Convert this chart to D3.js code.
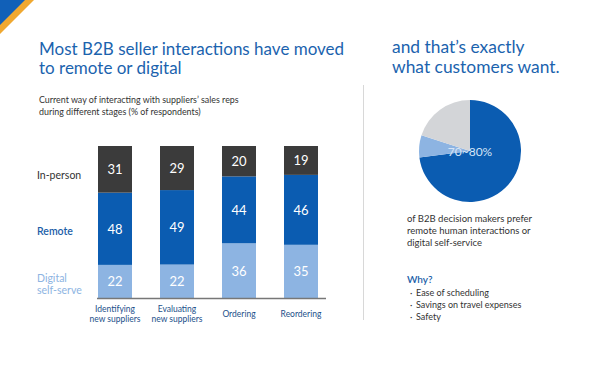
<!DOCTYPE html>
<html><head><meta charset="utf-8">
<script src="https://cdn.jsdelivr.net/npm/d3@7"></script>
<style>body{margin:0;background:#fff}svg{display:block;font-family:Lato,"Open Sans",sans-serif}</style>
</head><body><svg id="c" width="600" height="375"></svg>
<script>
// ---- data ----
const stages = ["Identifying new suppliers", "Evaluating new suppliers", "Ordering", "Reordering"];
const stageLines = [["Identifying", "new suppliers"], ["Evaluating", "new suppliers"], ["Ordering"], ["Reordering"]];
const modes = ["Digital self-serve", "Remote", "In-person"];
const digitalSelfServe = [22, 22, 36, 35];
const remote = [48, 49, 44, 46];
const inPerson = [31, 29, 20, 19];
const pieLabels = ["Remote or digital", "Digital share", "In-person"];
const pieValues = [73, 7, 20];
const pieText = "70~80%";
const whyItems = ["Ease of scheduling", "Savings on travel expenses", "Safety"];

const colors = {"Digital self-serve": "#8db4e2", "Remote": "#0b5cb1", "In-person": "#3b3b3b"};
const pieColors = ["#0b5cb1", "#8db4e2", "#d3d5d8"];

const svg = d3.select("#c");

// corner decoration
svg.append("polygon").attr("points", "0,0 34,0 0,34").attr("fill", "#f0a830");
svg.append("polygon").attr("points", "0,0 25,0 0,25").attr("fill", "#1160b8");

// titles
const title = svg.append("text").attr("fill", "#1b63ae").attr("font-size", 17);
title.append("tspan").attr("x", 39).attr("y", 55).text("Most B2B seller interactions have moved");
title.append("tspan").attr("x", 39).attr("y", 74).text("to remote or digital");
const title2 = svg.append("text").attr("fill", "#1b63ae").attr("font-size", 17.4);
title2.append("tspan").attr("x", 392).attr("y", 53).text("and that\u2019s exactly");
title2.append("tspan").attr("x", 392).attr("y", 72.5).text("what customers want.");

const sub = svg.append("text").attr("fill", "#333").attr("font-size", 8.9);
sub.append("tspan").attr("x", 39).attr("y", 103).text("Current way of interacting with suppliers\u2019 sales reps");
sub.append("tspan").attr("x", 39).attr("y", 115).text("during different stages (% of respondents)");

// ---- stacked bars ----
const rows = stages.map((s, i) => ({stage: s, "Digital self-serve": digitalSelfServe[i], "Remote": remote[i], "In-person": inPerson[i]}));
const stack = d3.stack().keys(modes).offset(d3.stackOffsetExpand);
const series = stack(rows);
const x = d3.scaleBand().domain(stages).range([84, 332]).paddingInner(0.4516).paddingOuter(0.2258);
const y = d3.scaleLinear().domain([0, 1]).range([298, 146]);

const g = svg.append("g");
series.forEach(s => {
  const gg = g.append("g");
  gg.selectAll("rect").data(s).join("rect")
    .attr("x", d => x(d.data.stage)).attr("width", x.bandwidth())
    .attr("y", d => y(d[1])).attr("height", d => y(d[0]) - y(d[1]))
    .attr("fill", colors[s.key]);
  gg.selectAll("text").data(s).join("text")
    .attr("x", d => x(d.data.stage) + x.bandwidth() / 2)
    .attr("y", d => (y(d[0]) + y(d[1])) / 2 + 5)
    .attr("text-anchor", "middle").attr("fill", "#fff").attr("font-size", 13)
    .text(d => d.data[s.key]);
});

// axis
const axis = svg.append("g").attr("transform", "translate(0,298.5)")
  .call(d3.axisBottom(x).tickSize(0).tickFormat(""));
axis.select(".domain").attr("stroke", "#777").attr("stroke-width", 1.5)
  .attr("d", `M${x(stages[0]) - 1},0H${x(stages[3]) + x.bandwidth() + 8}`);
stages.forEach((s, i) => {
  const lines = stageLines[i];
  const t = svg.append("text").attr("text-anchor", "middle").attr("fill", "#1b4f8a").attr("font-size", 8.5);
  const y0 = lines.length === 2 ? 312 : 317;
  lines.forEach((l, j) => t.append("tspan").attr("x", x(s) + x.bandwidth() / 2).attr("y", y0 + j * 9.5).text(l));
});

// row labels
svg.append("text").attr("x", 37).attr("y", 179).attr("fill", "#333").attr("font-size", 10.5).text("In-person");
svg.append("text").attr("x", 37).attr("y", 235).attr("fill", "#1b5ea8").attr("font-size", 10.5).attr("font-weight", 600).text("Remote");
const dl = svg.append("text").attr("fill", "#8db4e2").attr("font-size", 10.5);
dl.append("tspan").attr("x", 37).attr("y", 282).text("Digital");
dl.append("tspan").attr("x", 37).attr("y", 294).text("self-serve");

// divider
svg.append("line").attr("x1", 363.5).attr("x2", 363.5).attr("y1", 85).attr("y2", 320).attr("stroke", "#d8d8d8");

// ---- pie ----
const pie = d3.pie().sort(null)(pieValues);
const arc = d3.arc().innerRadius(0).outerRadius(51);
const pg = svg.append("g").attr("transform", "translate(470,151)");
pg.selectAll("path").data(pie).join("path").attr("d", arc).attr("fill", (d, i) => pieColors[i]);
pg.append("text").attr("x", 0).attr("y", 4.5).attr("text-anchor", "middle").attr("fill", "#d6e4f6").attr("font-size", 12).text(pieText);

const pt = svg.append("text").attr("fill", "#333").attr("font-size", 9.5);
["of B2B decision makers prefer", "remote human interactions or", "digital self-service"].forEach((l, j) =>
  pt.append("tspan").attr("x", 407).attr("y", 222 + j * 12).text(l));

svg.append("text").attr("x", 407).attr("y", 283).attr("fill", "#1b5ea8").attr("font-size", 10).attr("font-weight", 600).text("Why?");
whyItems.forEach((w, j) => {
  svg.append("text").attr("x", 410).attr("y", 296 + j * 12).attr("fill", "#333").attr("font-size", 9).text("\u00b7");
  svg.append("text").attr("x", 416).attr("y", 296 + j * 12).attr("fill", "#333").attr("font-size", 9).text(w);
});
</script></body></html>
